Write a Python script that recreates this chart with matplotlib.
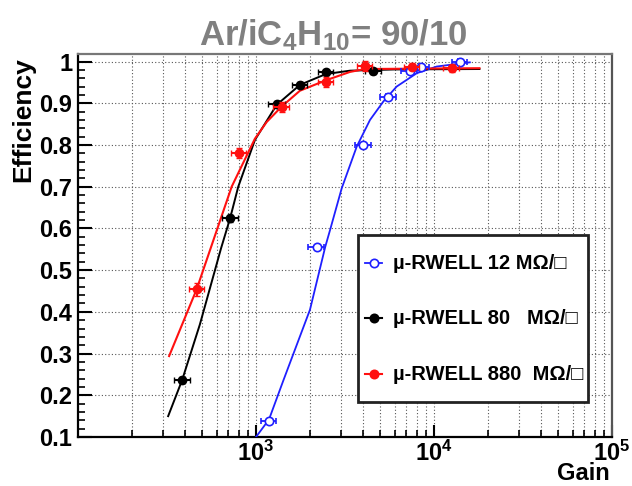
import matplotlib
matplotlib.use("Agg")
import matplotlib.pyplot as plt
from matplotlib.lines import Line2D
from matplotlib.patches import Rectangle
from matplotlib.ticker import FixedLocator, FixedFormatter, LogLocator, NullFormatter

# ---------------- data ----------------
blue_gain = [1180, 2190, 4010, 5530, 7300, 8500, 14000]
blue_eff = [0.138, 0.556, 0.800, 0.916, 0.977, 0.988, 1.000]
blue_gerr = [120, 230, 420, 560, 750, 850, 1400]
blue_eerr = [0.005, 0.005, 0.005, 0.005, 0.005, 0.005, 0.005]

black_gain = [385, 715, 1306, 1765, 2470, 4560]
black_eff = [0.237, 0.624, 0.897, 0.944, 0.974, 0.977]
black_gerr = [40, 75, 140, 180, 250, 450]
black_eerr = [0.008, 0.008, 0.008, 0.008, 0.006, 0.006]

red_gain = [464, 804, 1393, 2470, 4090, 7500, 12600]
red_eff = [0.454, 0.780, 0.892, 0.950, 0.990, 0.988, 0.984]
red_gerr = [45, 80, 140, 250, 400, 750, 1300]
red_eerr = [0.015, 0.012, 0.012, 0.012, 0.012, 0.008, 0.008]

# fitted curves as drawn in the picture
blue_fit_gain = [1000, 1183, 1423, 2010, 2450, 2606, 3030, 3680, 4370, 5190, 6170, 8000, 10360, 15900]
blue_fit_eff = [0.100, 0.142, 0.235, 0.405, 0.556, 0.596, 0.696, 0.796, 0.860, 0.904, 0.940, 0.972, 0.988, 0.998]

black_fit_gain = [321, 385, 484, 636, 715, 795, 986, 1306, 1765, 2470, 3370, 6000, 18000]
black_fit_eff = [0.150, 0.237, 0.370, 0.552, 0.624, 0.700, 0.812, 0.896, 0.944, 0.970, 0.978, 0.981, 0.982]

red_fit_gain = [325, 464, 730, 986, 1148, 1393, 1765, 2470, 3370, 4090, 18000]
red_fit_eff = [0.294, 0.454, 0.700, 0.815, 0.855, 0.892, 0.930, 0.955, 0.975, 0.982, 0.984]

labels = ["\u00b5-RWELL 12 M\u03a9/\u25a1", "\u00b5-RWELL 80   M\u03a9/\u25a1", "\u00b5-RWELL 880  M\u03a9/\u25a1"]
title = r"Ar/iC$_{4}$H$_{10}$= 90/10"
y_ticks = [0.1, 0.2, 0.3, 0.4, 0.5, 0.6, 0.7, 0.8, 0.9, 1.0]
y_ticklabels = ["0.1", "0.2", "0.3", "0.4", "0.5", "0.6", "0.7", "0.8", "0.9", "1"]
x_ticks = [1e3, 1e4, 1e5]
x_ticklabels = [r"$10^{3}$", r"$10^{4}$", r"$10^{5}$"]

BLUE = '#1f1fff'
RED = '#ff1010'

# ---------------- style ----------------
plt.rcParams['font.family'] = ['Liberation Sans', 'DejaVu Sans']
plt.rcParams['font.weight'] = 'bold'
plt.rcParams['mathtext.fontset'] = 'custom'
plt.rcParams['mathtext.rm'] = 'Liberation Sans:bold'
plt.rcParams['mathtext.bf'] = 'Liberation Sans:bold'
plt.rcParams['mathtext.it'] = 'Liberation Sans:bold'

W, H = 632, 486
fig = plt.figure(figsize=(W / 100, H / 100), dpi=100)
ax = fig.add_axes([78 / W, 49 / H, 534 / W, 383 / H])
ax.set_xscale('log')
ax.set_xlim(100, 1e5)
ax.set_ylim(0.1, 1.018)

# grid
ax.xaxis.set_minor_locator(LogLocator(base=10, subs=range(2, 10)))
ax.xaxis.set_minor_formatter(NullFormatter())
ax.grid(True, which='major', axis='both', linestyle=(0, (1, 2)), color='#555555', linewidth=0.8)
ax.grid(True, which='minor', axis='x', linestyle=(0, (1, 2)), color='#555555', linewidth=0.8)
ax.set_axisbelow(True)

ax.yaxis.set_major_locator(FixedLocator(y_ticks))
ax.yaxis.set_major_formatter(FixedFormatter(y_ticklabels))
ax.yaxis.set_minor_locator(FixedLocator([0.1 + 0.02 * i for i in range(46)]))
ax.xaxis.set_major_locator(FixedLocator(x_ticks))
ax.xaxis.set_major_formatter(FixedFormatter(x_ticklabels))

ax.tick_params(axis='both', which='major', direction='in', labelsize=17, width=1.5)
ax.tick_params(axis='y', which='major', length=10, pad=4)
ax.tick_params(axis='y', which='minor', direction='in', length=5, width=1.2)
ax.tick_params(axis='x', which='major', length=9, pad=3)
ax.tick_params(axis='x', which='minor', direction='in', length=5, width=1.2)
for lab in ax.get_xticklabels() + ax.get_yticklabels():
    lab.set_fontweight('bold')

for s in ('left', 'bottom', 'top', 'right'):
    ax.spines[s].set_linewidth(1.6)
ax.spines['top'].set_color('#777777')
ax.spines['right'].set_color('#555555')

# curves
ax.plot(blue_fit_gain, blue_fit_eff, color=BLUE, lw=1.3, zorder=3)
ax.plot(black_fit_gain, black_fit_eff, color='black', lw=1.4, zorder=3)
ax.plot(red_fit_gain, red_fit_eff, color=RED, lw=1.5, zorder=4)

# points
ax.errorbar(blue_gain, blue_eff, xerr=blue_gerr, yerr=blue_eerr, fmt='o', ms=6,
            mfc='white', mec=BLUE, ecolor=BLUE, color=BLUE,
            elinewidth=1.3, capsize=2.5, mew=1.2, zorder=5)
ax.errorbar(black_gain, black_eff, xerr=black_gerr, yerr=black_eerr, fmt='o', ms=6,
            mfc='black', mec='black', ecolor='black', color='black',
            elinewidth=1.5, capsize=2.5, zorder=5)
ax.errorbar(red_gain, red_eff, xerr=red_gerr, yerr=red_eerr, fmt='o', ms=6,
            mfc=RED, mec=RED, ecolor=RED, color=RED,
            elinewidth=1.5, capsize=2.5, zorder=6)

# legend (drawn by hand to match the box layout)
def fx(px):
    return px / W

def fy(py):
    return 1 - py / H

box = Rectangle((fx(358), fy(402)), fx(588) - fx(358), fy(235) - fy(402),
                transform=fig.transFigure, facecolor='white', edgecolor='#222222',
                linewidth=2.0, zorder=10)
fig.add_artist(box)
entry_y = [263, 318, 374]
styles = [dict(color=BLUE, mfc='white', mec=BLUE, lw=1.3),
          dict(color='black', mfc='black', mec='black', lw=1.5),
          dict(color=RED, mfc=RED, mec=RED, lw=1.5)]
for yy, lab, st in zip(entry_y, labels, styles):
    fig.add_artist(Line2D([fx(365), fx(382)], [fy(yy), fy(yy)], transform=fig.transFigure,
                          color=st['color'], lw=st['lw'], zorder=11))
    fig.add_artist(Line2D([fx(373.5)], [fy(yy)], transform=fig.transFigure, marker='o', ms=6,
                          mfc=st['mfc'], mec=st['mec'], mew=1.2, linestyle='none', zorder=12))
    fig.text(fx(393), fy(yy), lab, ha='left', va='center', fontsize=14.5, fontweight='bold',
             family=['Liberation Sans', 'DejaVu Sans'], zorder=12)

# texts
fig.text(fx(333), fy(35), title, color='#808080', fontsize=25, ha='center', va='center', fontweight='bold')
fig.text(fx(23), fy(57), 'Efficiency', rotation=90, ha='center', va='top', fontsize=19, fontweight='bold')
fig.text(fx(610), fy(485), 'Gain', ha='right', va='bottom', fontsize=17, fontweight='bold')

fig.savefig('out.png', dpi=100)
